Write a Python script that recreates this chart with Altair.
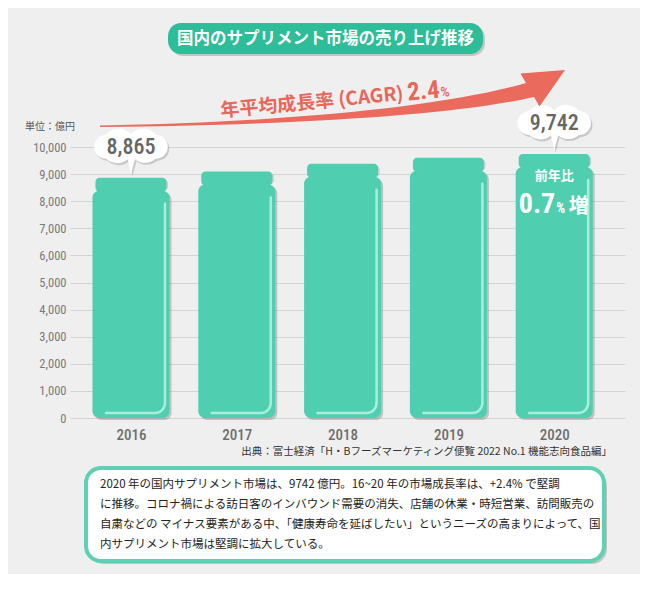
import altair as alt
import pandas as pd

# ---------------- data ----------------
years = [2016, 2017, 2018, 2019, 2020]
sales = [8865, 9100, 9380, 9600, 9742]
bubble_text = ["8,865", "", "", "", "9,742"]
y_ticks = [0, 1000, 2000, 3000, 4000, 5000, 6000, 7000, 8000, 9000, 10000]

title_text = "国内のサプリメント市場の売り上げ推移"
cagr_label = "年平均成長率 (CAGR)"
cagr_value = "2.4"
cagr_unit = "%"
unit_label = "単位：億円"
yoy_label = "前年比"
yoy_value = "0.7"
yoy_pct = "%"
yoy_word = "増"
source_text = "出典：富士経済「H・Bフーズマーケティング便覧 2022 No.1 機能志向食品編」"
note_lines = [
    "2020 年の国内サプリメント市場は、9742 億円。16~20 年の市場成長率は、+2.4% で堅調",
    "に推移。コロナ禍による訪日客のインバウンド需要の消失、店舗の休業・時短営業、訪問販売の",
    "自粛などの マイナス要素がある中、「健康寿命を延ばしたい」というニーズの高まりによって、国",
    "内サプリメント市場は堅調に拡大している。",
]

df = pd.DataFrame({"year": years, "sales": sales, "bubble": bubble_text})
one = pd.DataFrame({"k": [0]})
note_df = pd.DataFrame({"note": ["\n".join(note_lines)]})

# ---------------- style ----------------
JP = "Noto Sans CJK JP"
NUM = "Roboto Condensed, Liberation Sans Narrow, Roboto"
BG = "#efefef"
BAR = "#4fcfb0"
HL = "#a8eedb"
TITLE_GREEN = "#2dbd98"
RED = "#e8665a"
GRAY_TXT = "#6e6e6e"

CLOUD = ("M -0.62 -0.3 A 0.4 0.4 0 0 1 0 -0.32 A 0.4 0.4 0 0 1 0.62 -0.3 "
         "A 0.3 0.3 0 0 1 0.62 0.3 A 0.4 0.4 0 0 1 0.1 0.31 L 0 0.68 L -0.08 0.31 "
         "A 0.4 0.4 0 0 1 -0.62 0.3 A 0.3 0.3 0 0 1 -0.62 -0.3 Z")
# arrow outline, in pixels relative to the plot origin
ARROW = ("M 30 -21.5 C 230 -25 380 -42 456 -64 L 450.5 -73.5 L 495 -77 L 469.5 -40.5 "
         "L 464 -50 C 390 -33 240 -22 30 -20 Z")
CORNER = "M 10 0 A 10 10 0 0 1 0 10"

W, H = 555, 271

x_axis = alt.Axis(values=years, format="d", title=None, ticks=False, domain=False,
                  grid=False, labelFont=NUM, labelFontSize=15, labelColor=GRAY_TXT,
                  labelFontWeight=500, labelPadding=9)
y_axis = alt.Axis(values=y_ticks, format=",d", title=None, ticks=False, domain=False,
                  grid=True, gridColor="#d4d4d4", gridWidth=1, labelFont=NUM,
                  labelFontSize=12.5, labelColor="#7a7a7a", labelPadding=4,
                  labelOverlap=False)
x_scale = alt.Scale(domain=[2015.471, 2020.622], nice=False, zero=False)
y_scale = alt.Scale(domain=[0, 10000], nice=False)

X = alt.X("year:Q", scale=x_scale, axis=x_axis)
Y = alt.Y("sales:Q", scale=y_scale, axis=y_axis)
Y0 = alt.YDatum(0, scale=y_scale, axis=y_axis)

base = alt.Chart(df)

bar_shadow = base.mark_bar(orient="vertical", size=77, cornerRadius=7, color="#8a8a8a",
                           opacity=0.45, xOffset=2, yOffset=15, y2Offset=2).encode(
    x=X, y=Y, y2=alt.datum(0))
lid_shadow = base.mark_bar(orient="vertical", size=71, cornerRadius=4, color="#8a8a8a",
                           opacity=0.35, xOffset=1.5, yOffset=1.5, y2Offset=13).encode(
    x=X, y=Y, y2=alt.Y2("sales:Q"))
body = base.mark_bar(orient="vertical", size=77, cornerRadius=7, color=BAR,
                     yOffset=13).encode(x=X, y=Y, y2=alt.datum(0))
lid = base.mark_bar(orient="vertical", size=71, cornerRadius=4, color=BAR,
                    y2Offset=14).encode(x=X, y=Y, y2=alt.Y2("sales:Q"))

hl_v = base.mark_rule(color=HL, strokeWidth=2.5, strokeCap="round", xOffset=34,
                      yOffset=26, y2Offset=-15).encode(x=X, y=Y, y2=alt.datum(0))
hl_h = base.mark_rule(color=HL, strokeWidth=2.5, strokeCap="round", xOffset=-25,
                      x2Offset=24, yOffset=-5).encode(x=X, x2=alt.X2("year:Q"), y=Y0)
hl_c = base.mark_point(shape=CORNER, size=4, filled=False, stroke=HL, strokeWidth=2.5,
                       opacity=1, xOffset=24, yOffset=-15).encode(x=X, y=Y0)

bub_base = base.transform_filter(alt.datum.bubble != "")
bub_shadow = bub_base.mark_point(shape=CLOUD, size=6400, filled=True, color="#9a9a9a",
                                 opacity=0.45, xOffset=1.5, yOffset=-29).encode(x=X, y=Y)
bub = bub_base.mark_point(shape=CLOUD, size=6400, filled=True, color="white",
                          opacity=1, yOffset=-31).encode(x=X, y=Y)
bub_txt = bub_base.mark_text(font=NUM, fontSize=22, fontWeight=500, color="#666666",
                             yOffset=-31, baseline="middle").encode(x=X, y=Y, text="bubble:N")

last = base.transform_filter(alt.datum.year == 2020)
yoy1 = last.mark_text(font=JP, fontSize=13, fontWeight="bold", color="white",
                      yOffset=22, baseline="middle").encode(x=X, y=Y, text=alt.value(yoy_label))
yoy2 = last.mark_text(font=NUM, fontSize=28, fontWeight="bold", color="white",
                      xOffset=1, yOffset=59, align="right", baseline="alphabetic").encode(
    x=X, y=Y, text=alt.value(yoy_value))
yoy3 = last.mark_text(font=NUM, fontSize=14, fontWeight="bold", color="white",
                      xOffset=2, yOffset=59, align="left", baseline="alphabetic").encode(
    x=X, y=Y, text=alt.value(yoy_pct))
yoy4 = last.mark_text(font=JP, fontSize=20, fontWeight="bold", color="white",
                      xOffset=14.5, yOffset=53.5, align="left", baseline="middle").encode(
    x=X, y=Y, text=alt.value(yoy_word))

ob = alt.Chart(one)
title_shadow = ob.mark_rect(cornerRadius=13, color="#9a9a9a", opacity=0.5).encode(
    x=alt.value(100), x2=alt.value(415), y=alt.value(-122), y2=alt.value(-91))
title_box = ob.mark_rect(cornerRadius=13, color=TITLE_GREEN).encode(
    x=alt.value(98), x2=alt.value(413), y=alt.value(-124), y2=alt.value(-93))
title_txt = ob.mark_text(font=JP, fontSize=16.5, fontWeight="bold", color="white",
                         baseline="middle").encode(x=alt.value(255.5), y=alt.value(-108.5),
                                                   text=alt.value(title_text))

arrow = ob.mark_point(shape=ARROW, size=4, filled=True, color="#ea6a5e", opacity=1).encode(
    x=alt.value(0), y=alt.value(0))
cagr1 = ob.mark_text(font=JP, fontSize=19, fontWeight="bold", color=RED, angle=354.7,
                     align="right", baseline="alphabetic").encode(
    x=alt.value(334), y=alt.value(-47), text=alt.value(cagr_label))
cagr2 = ob.mark_text(font=NUM, fontSize=25, fontWeight="bold", color=RED, angle=354.7,
                     align="left", baseline="alphabetic").encode(
    x=alt.value(338), y=alt.value(-46.5), text=alt.value(cagr_value))
cagr3 = ob.mark_text(font=NUM, fontSize=14, fontWeight=500, color=RED, angle=354.7,
                     align="left", baseline="alphabetic").encode(
    x=alt.value(371), y=alt.value(-50), text=alt.value(cagr_unit))

unit_txt = ob.mark_text(font=JP, fontSize=10, color="#555555", align="left",
                        baseline="middle").encode(x=alt.value(-45), y=alt.value(-20),
                                                  text=alt.value(unit_label))
src_txt = ob.mark_text(font=JP, fontSize=10.5, color="#333333", align="right",
                       baseline="middle").encode(x=alt.value(542), y=alt.value(305),
                                                 text=alt.value(source_text))

box_shadow = ob.mark_rect(cornerRadius=15, color="#8f8f8f", opacity=0.45).encode(
    x=alt.value(19), x2=alt.value(537), y=alt.value(324), y2=alt.value(417))
box = ob.mark_rect(cornerRadius=15, fill="white", stroke="#5fd0b3", strokeWidth=4).encode(
    x=alt.value(16), x2=alt.value(534), y=alt.value(321), y2=alt.value(414))
note = alt.Chart(note_df).mark_text(font=JP, fontSize=11.5, color="#222222", align="left",
                                    baseline="top", lineBreak="\n", lineHeight=20).encode(
    x=alt.value(30), y=alt.value(332), text="note:N")

chart = alt.layer(
    bar_shadow, lid_shadow, body, lid, hl_v, hl_h, hl_c,
    bub_shadow, bub, bub_txt, yoy1, yoy2, yoy3, yoy4,
    title_shadow, title_box, title_txt, arrow, cagr1, cagr2, cagr3,
    unit_txt, src_txt, box_shadow, box, note,
).properties(
    width=W, height=H,
    autosize=alt.AutoSizeParams(type="none"),
    padding={"left": 62, "top": 139, "right": 15, "bottom": 156},
    background=BG,
).configure_view(stroke=None)

chart.save("out.html", embed_options={"renderer": "svg", "actions": False})
